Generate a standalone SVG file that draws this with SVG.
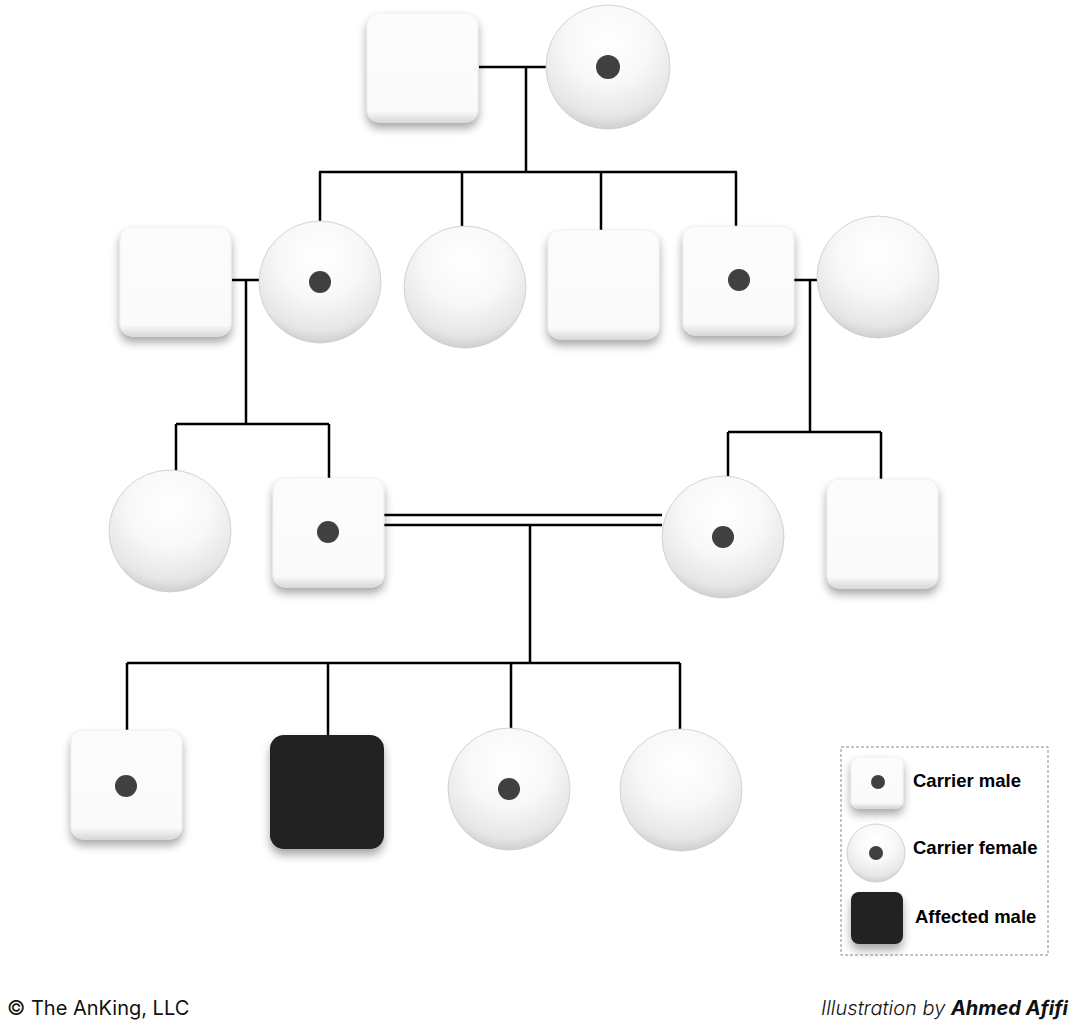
<svg xmlns="http://www.w3.org/2000/svg" width="1079" height="1027" viewBox="0 0 1079 1027">
<defs>
<filter id="sh" x="-30%" y="-30%" width="160%" height="170%">
<feGaussianBlur in="SourceAlpha" stdDeviation="5"/>
<feOffset dx="0" dy="6" result="b"/>
<feComponentTransfer><feFuncA type="linear" slope="0.35"/></feComponentTransfer>
<feMerge><feMergeNode/><feMergeNode in="SourceGraphic"/></feMerge>
</filter>
<linearGradient id="sq" x1="0" y1="0" x2="0" y2="1">
<stop offset="0" stop-color="#fdfcfc"/>
<stop offset="0.9" stop-color="#fbfafa"/>
<stop offset="1" stop-color="#d8d8d8"/>
</linearGradient>
<radialGradient id="ball" cx="0.5" cy="0.3" r="0.75">
<stop offset="0" stop-color="#ffffff"/>
<stop offset="0.45" stop-color="#f7f8f9"/>
<stop offset="0.8" stop-color="#e6e6e6"/>
<stop offset="1" stop-color="#c4c4c4"/>
</radialGradient>
</defs>
<style>
.sq{fill:url(#sq);stroke:#e6e6e6;stroke-width:0.6;filter:url(#sh)}
.ci{fill:url(#ball);stroke:#c9c9c9;stroke-width:0.8}
.bk{fill:#202022;filter:url(#sh)}
.dot{fill:#404042}
.ln{stroke:#000;stroke-width:2.5;fill:none}
.lg{font-family:"Liberation Sans",Arial,sans-serif;font-weight:bold;font-size:18.5px;fill:#000}
.ft{font-family:Inter,"Liberation Sans",sans-serif;font-size:20px;fill:#111}
</style>
<rect width="1079" height="1027" fill="#fff"/>

<g id="connectors">
<path class="ln" d="M479 67H547 M526 67V172 M319 172H737 M320 172V221 M462 172V226 M601 172V231 M736 172V227"/>
<path class="ln" d="M232 280H259 M246 280V424 M176 424H329 M176 424V471 M329 424V479"/>
<path class="ln" d="M793 280H817 M810 280V432 M728 432H881 M728 432V477 M881 432V480"/>
<path class="ln" d="M383 515H662 M383 525H662 M530 525V663 M127 663H680 M127 663V731 M328 663V736 M511 663V729 M680 663V730"/>
</g>

<g id="gen1-father"><rect class="sq" x="367" y="13" width="111" height="109" rx="12"/></g>
<g id="gen1-mother"><circle class="ci" cx="608" cy="67" r="62"/><circle class="dot" cx="608" cy="67" r="12"/></g>

<g id="gen2-husband"><rect class="sq" x="120" y="227" width="111" height="109" rx="12"/></g>
<g id="gen2-daughter1"><circle class="ci" cx="320" cy="282" r="61"/><circle class="dot" cx="320" cy="282" r="11"/></g>
<g id="gen2-daughter2"><circle class="ci" cx="465" cy="287" r="61"/></g>
<g id="gen2-son1"><rect class="sq" x="548" y="230" width="111" height="109" rx="12"/></g>
<g id="gen2-son2"><rect class="sq" x="683" y="226" width="111" height="109" rx="12"/><circle class="dot" cx="739" cy="280" r="11"/></g>
<g id="gen2-wife"><circle class="ci" cx="878" cy="277" r="61"/></g>

<g id="gen3-daughter"><circle class="ci" cx="170" cy="531" r="61"/></g>
<g id="gen3-son"><rect class="sq" x="273" y="478" width="111" height="109" rx="12"/><circle class="dot" cx="328" cy="532" r="11"/></g>
<g id="gen3-cousin-female"><circle class="ci" cx="723" cy="537" r="61"/><circle class="dot" cx="723" cy="537" r="11"/></g>
<g id="gen3-cousin-male"><rect class="sq" x="827" y="479" width="111" height="109" rx="12"/></g>

<g id="gen4-son1"><rect class="sq" x="71" y="730" width="111" height="109" rx="12"/><circle class="dot" cx="126" cy="786" r="11"/></g>
<g id="gen4-son2"><rect class="bk" x="270" y="735" width="114" height="114" rx="14"/></g>
<g id="gen4-daughter1"><circle class="ci" cx="509" cy="789" r="61"/><circle class="dot" cx="509" cy="789" r="11"/></g>
<g id="gen4-daughter2"><circle class="ci" cx="681" cy="790" r="61"/></g>

<g id="legend">
<rect x="841" y="747" width="207" height="208" fill="none" stroke="#8a8a8a" stroke-width="1" stroke-dasharray="3,2"/>
<rect class="sq" x="851" y="757" width="52" height="51" rx="7"/>
<circle class="dot" cx="878" cy="782" r="7"/>
<text class="lg" x="913" y="787">Carrier male</text>
<circle class="ci" cx="876" cy="853" r="29"/>
<circle class="dot" cx="876" cy="853" r="7"/>
<text class="lg" x="913" y="854">Carrier female</text>
<rect class="bk" x="851" y="892" width="52" height="52" rx="8"/>
<text class="lg" x="915" y="923">Affected male</text>
</g>

<g id="footer">
<text class="ft" x="7" y="1015">© The AnKing, LLC</text>
<text class="ft" x="1068" y="1015" text-anchor="end" font-style="italic"><tspan font-weight="300">Illustration by </tspan><tspan font-weight="bold">Ahmed Afifi</tspan></text>
</g>
</svg>
